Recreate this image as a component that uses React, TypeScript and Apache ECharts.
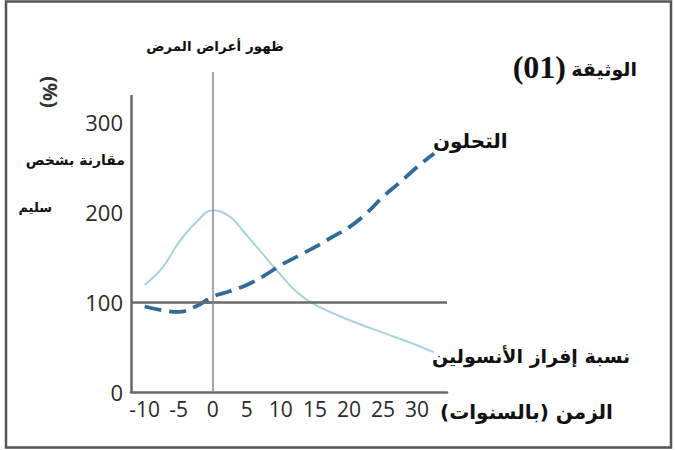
import React, { useEffect, useRef } from "react";
import * as echarts from "echarts";

// Data
const insulinYears = [-10, -7.5, -5, -2.5, 0, 2.5, 5, 7.5, 10, 12.5, 15, 20, 25, 30, 32.5];
const insulinValues = [119, 137, 166, 188, 202, 195, 174, 152, 130, 110, 97, 80, 66, 52, 44];

const glycemiaYears = [-10, -7.5, -5, -2.5, 0, 2.5, 5, 7.5, 10, 12.5, 15, 17.5, 20, 22.5, 25, 27.5, 30, 32.5];
const glycemiaValues = [95, 91, 89, 95, 106, 112, 119, 129, 141, 151, 161, 172, 183, 198, 217, 233, 250, 265];

const xTicks = [-10, -5, 0, 5, 10, 15, 20, 25, 30];
const yTicks = [0, 100, 200, 300];
const referenceLevel = 100;
const onsetYear = 0;

const X_MIN = -12;
const X_MAX = 34.4;
const Y_MAX = 355.6;
const Y_AXIS_TOP = 330;

const AR = "'DejaVu Sans', sans-serif";
const NUM = "'Open Sans', 'Noto Sans', sans-serif";

export default function App() {
  const ref = useRef<HTMLDivElement>(null);

  useEffect(() => {
    document.body.style.margin = "0";
    const chart = echarts.init(ref.current!, null, { renderer: "svg" });
    const grey = "#6a6a6a";
    chart.setOption({
      animation: false,
      backgroundColor: "#ffffff",
      grid: { left: 131, right: 228, top: 72, bottom: 58 },
      xAxis: {
        type: "value",
        min: X_MIN,
        max: X_MAX,
        axisLine: { show: true, onZero: false, lineStyle: { color: grey, width: 2.5 } },
        axisTick: { show: false },
        splitLine: { show: false },
        axisLabel: {
          customValues: xTicks,
          margin: 6,
          color: "#2a2a2a",
          fontFamily: NUM,
          fontSize: 21,
        },
      },
      yAxis: {
        type: "value",
        min: 0,
        max: Y_MAX,
        axisLine: { show: false },
        axisTick: {
          show: true,
          customValues: [referenceLevel],
          length: 8,
          lineStyle: { color: grey, width: 2.5 },
        },
        splitLine: { show: false },
        axisLabel: {
          customValues: yTicks,
          margin: 8,
          color: "#2a2a2a",
          fontFamily: NUM,
          fontSize: 22,
        },
      },
      series: [
        {
          type: "line",
          data: insulinYears.map((x, i) => [x, insulinValues[i]]),
          smooth: 0.4,
          symbol: "none",
          lineStyle: { color: "#a8d2dc", width: 2 },
          z: 3,
          markLine: {
            silent: true,
            symbol: "none",
            label: { show: false },
            data: [
              [
                { coord: [X_MIN, 0], lineStyle: { color: grey, width: 2.5, type: "solid" } },
                { coord: [X_MIN, Y_AXIS_TOP] },
              ],
              [
                { coord: [X_MIN, referenceLevel], lineStyle: { color: grey, width: 2.5, type: "solid" } },
                { coord: [X_MAX, referenceLevel] },
              ],
              [
                { coord: [onsetYear, 0], lineStyle: { color: "#8a8a8a", width: 1.5, type: "solid" } },
                { coord: [onsetYear, Y_MAX] },
              ],
            ],
          },
        },
        {
          type: "line",
          data: glycemiaYears.map((x, i) => [x, glycemiaValues[i]]),
          smooth: 0.4,
          symbol: "none",
          lineStyle: { color: "#2f6c9c", width: 3.8, type: [17, 8] },
          z: 4,
        },
      ],
      graphic: [
        {
          type: "rect",
          shape: { x: 6, y: 1.5, width: 665, height: 446 },
          style: { fill: "none", stroke: "#555", lineWidth: 2.5 },
          silent: true,
        },
        {
          type: "text",
          x: 215,
          y: 46,
          style: { text: "ظهور أعراض المرض", font: `bold 13.5px ${AR}`, fill: "#111", align: "center", verticalAlign: "middle" },
        },
        {
          type: "text",
          x: 637,
          y: 69,
          style: { text: "الوثيقة", font: `bold 19px ${AR}`, fill: "#111", align: "right", verticalAlign: "middle" },
        },
        {
          type: "text",
          x: 566,
          y: 67,
          style: { text: "(01)", font: `bold 32px 'Liberation Serif', serif`, fill: "#111", align: "right", verticalAlign: "middle" },
        },
        {
          type: "text",
          x: 50,
          y: 92,
          rotation: -Math.PI / 2,
          style: { text: "(%)", font: `bold 20px ${NUM}`, fill: "#333", align: "center", verticalAlign: "middle" },
        },
        {
          type: "text",
          x: 125,
          y: 160,
          style: { text: "مقارنة بشخص", font: `bold 14px ${AR}`, fill: "#111", align: "right", verticalAlign: "middle" },
        },
        {
          type: "text",
          x: 52,
          y: 207,
          style: { text: "سليم", font: `bold 13px ${AR}`, fill: "#111", align: "right", verticalAlign: "middle" },
        },
        {
          type: "text",
          x: 433,
          y: 141,
          style: { text: "التحلون", font: `bold 20px ${AR}`, fill: "#111", align: "left", verticalAlign: "middle" },
        },
        {
          type: "text",
          x: 432,
          y: 356,
          style: { text: "نسبة إفراز الأنسولين", font: `bold 19px ${AR}`, fill: "#111", align: "left", verticalAlign: "middle" },
        },
        {
          type: "text",
          x: 440,
          y: 412,
          style: { text: "الزمن (بالسنوات)", font: `bold 20px ${AR}`, fill: "#111", align: "left", verticalAlign: "middle" },
        },
      ],
    });
    return () => chart.dispose();
  }, []);

  return <div ref={ref} style={{ width: 675, height: 450 }} />;
}
